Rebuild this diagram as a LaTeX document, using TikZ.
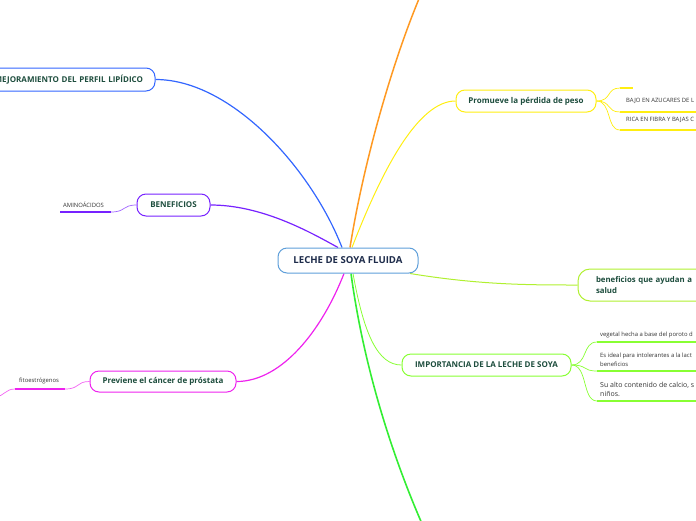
\documentclass[tikz,border=0pt]{standalone}
\usepackage{fontspec}
\setmainfont{Open Sans}
\usetikzlibrary{backgrounds}
\definecolor{cblue}{HTML}{3366FF}
\definecolor{cpurple}{HTML}{7722FF}
\definecolor{cmagenta}{HTML}{EE22EE}
\definecolor{cyellow}{HTML}{FFEE11}
\definecolor{corange}{HTML}{FF9922}
\definecolor{cgreen}{HTML}{33EE33}
\definecolor{clgreen}{HTML}{88FF33}
\definecolor{cyg}{HTML}{B0F030}
\definecolor{centralc}{HTML}{5F9FDA}
\definecolor{centraltext}{HTML}{1D2B4A}
\definecolor{nodetext}{HTML}{1D4D3D}
\definecolor{leaftext}{HTML}{333333}
\tikzset{
  mainbox/.style={draw, rounded corners=9pt, line width=1pt, fill=white, inner sep=0pt,
    font=\bfseries\fontsize{8}{9.5}\selectfont, text=nodetext},
  central/.style={mainbox, draw=centralc, minimum width=140pt, minimum height=25pt,
    font=\bfseries\fontsize{9.6}{11}\selectfont, text=centraltext},
  leaf/.style={font=\fontsize{5.9}{9}\selectfont, text=leaftext, inner sep=0pt, anchor=west},
  bigleaf/.style={leaf, font=\fontsize{7}{9.5}\selectfont, align=left},
  uline/.style={line width=2pt},
  conn/.style={line width=1.2pt},
  subconn/.style={line width=0.7pt},
}
\begin{document}
\begin{tikzpicture}[x=1pt,y=-1pt]
\useasboundingbox (0,0) rectangle (696,520);
\clip (0,0) rectangle (696,520);

% main nodes
\node[central] (c) at (348,260.5) {LECHE DE SOYA FLUIDA};
\node[mainbox, draw=cblue, minimum width=180pt, minimum height=23pt, text width=156pt, align=right] (mej) at (65,79.5) {MEJORAMIENTO DEL PERFIL LIPÍDICO};
\node[mainbox, draw=cpurple, minimum width=73pt, minimum height=22pt] (bene) at (173.5,205) {BENEFICIOS};
\node[mainbox, draw=cmagenta, minimum width=146pt, minimum height=21pt] (prev) at (163,381.5) {Previene el cáncer de próstata};
\node[mainbox, draw=cyellow, minimum width=140pt, minimum height=22pt] (prom) at (526,101) {Promueve la pérdida de peso};
\node[mainbox, draw=clgreen, minimum width=169pt, minimum height=22pt] (imp) at (486.5,365) {IMPORTANCIA DE LA LECHE DE SOYA};
\node[mainbox, draw=cyg, rounded corners=12pt, minimum width=200pt, minimum height=32pt, text width=164pt, align=left,
      font=\bfseries\fontsize{7.8}{10.5}\selectfont] (benef) at (678,285) {beneficios que ayudan a\\salud};

% leaves
\node[leaf] (amino) at (63,205) {AMINOÁCIDOS};
\coordinate (aminoL) at (60,212);
\coordinate (aminoR) at (111,212);
\node[leaf] (fito) at (19,380.5) {fitoestrógenos};
\coordinate (fitoL) at (15,389);
\coordinate (fitoR) at (65,389);
\coordinate (fitoEnd) at (-5,397);

\coordinate (p0L) at (620,88);
\coordinate (p0R) at (633,88);
\node[leaf] (p1) at (626,100.5) {BAJO EN AZUCARES DE L};
\coordinate (p1L) at (620,112);
\coordinate (p1R) at (700,112);
\node[leaf] (p2) at (626,120) {RICA EN FIBRA Y BAJAS C};
\coordinate (p2L) at (620,130);
\coordinate (p2R) at (700,130);

\node[leaf] (i1) at (600,335) {vegetal hecha a base del poroto d};
\coordinate (i1L) at (597,342);
\coordinate (i1R) at (700,342);
\node[leaf, align=left] (i2) at (600,359.5) {Es ideal para intolerantes a la lact\\beneficios};
\coordinate (i2L) at (597,371);
\coordinate (i2R) at (700,371);
\node[bigleaf] (i3) at (600,389.5) {Su alto contenido de calcio, s\\niños.};
\coordinate (i3L) at (597,401);
\coordinate (i3R) at (700,401);

\coordinate (orangeEnd) at (421,-6);
\coordinate (greenEnd) at (423,526);

\begin{scope}[on background layer]
  % main branches
  \draw[conn, cblue] ([xshift=-6pt]c.north) .. controls (312,170) and (232,79.5) .. (mej.east);
  \draw[conn, cpurple] ([xshift=-10pt]c.north) .. controls (310,232) and (262,205) .. (bene.east);
  \draw[conn, cmagenta] ([xshift=-4pt]c.south) .. controls (322,330) and (282,381.5) .. (prev.east);
  \draw[conn, corange, line width=1.5pt] ([xshift=2pt]c.north) .. controls (364,160) and (393,60) .. (orangeEnd);
  \draw[conn, cyellow, line width=1pt] ([xshift=4pt]c.north) .. controls (382,170) and (418,101) .. (prom.west);
  \draw[conn, cgreen, line width=1.6pt] ([xshift=3pt]c.south) .. controls (364,370) and (394,460) .. (greenEnd);
  \draw[conn, clgreen, line width=0.8pt] ([xshift=5pt]c.south) .. controls (364,335) and (378,365) .. (imp.west);
  \draw[conn, cyg, line width=1pt] ([xshift=62pt]c.south) .. controls (480,285) and (530,285) .. (benef.west);

  % sub-branches
  \draw[subconn, cpurple!70] (aminoR) .. controls (126,212) and (122,205) .. (bene.west);
  \draw[uline, cpurple] (aminoL) -- (aminoR);
  \draw[subconn, cmagenta!70] (fitoR) .. controls (80,389) and (76,381.5) .. (prev.west);
  \draw[uline, cmagenta] (fitoL) -- (fitoR);
  \draw[subconn, cmagenta!70] (fitoL) .. controls (5,389) and (5,396) .. (fitoEnd);

  \draw[subconn, cyellow] (prom.east) .. controls (612,101) and (606,88) .. (p0L);
  \draw[subconn, cyellow] (prom.east) .. controls (612,101) and (606,112) .. (p1L);
  \draw[subconn, cyellow] (prom.east) .. controls (612,101) and (606,130) .. (p2L);
  \draw[uline, cyellow] (p0L) -- (p0R);
  \draw[uline, cyellow] (p1L) -- (p1R);
  \draw[uline, cyellow] (p2L) -- (p2R);

  \draw[subconn, clgreen] (imp.east) .. controls (588,365) and (582,342) .. (i1L);
  \draw[subconn, clgreen] (imp.east) .. controls (588,365) and (582,371) .. (i2L);
  \draw[subconn, clgreen] (imp.east) .. controls (588,365) and (582,401) .. (i3L);
  \draw[uline, clgreen] (i1L) -- (i1R);
  \draw[uline, clgreen] (i2L) -- (i2R);
  \draw[uline, clgreen] (i3L) -- (i3R);
\end{scope}
\end{tikzpicture}
\end{document}
